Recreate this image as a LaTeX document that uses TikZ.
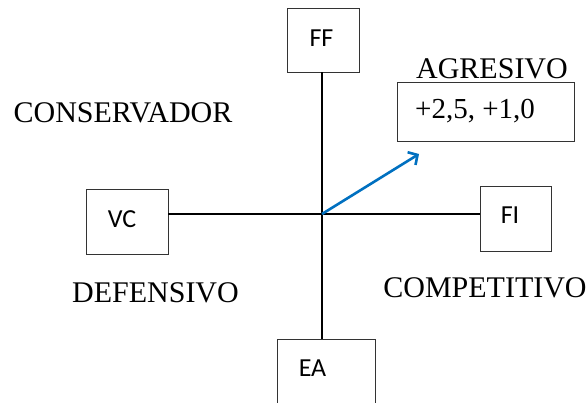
\documentclass[tikz,border=0pt]{standalone}
\usepackage{fontspec}
\setmainfont{Liberation Serif}
\newfontfamily\boxfont{Carlito}
\usetikzlibrary{arrows.meta}
\definecolor{arrowblue}{RGB}{0,112,192}
\begin{document}
\begin{tikzpicture}[x=1pt,y=-1pt,
  quadbox/.style={draw=black!80,line width=0.9pt,inner sep=0pt},
  boxlabel/.style={font=\boxfont\fontsize{26}{30}\selectfont,anchor=base,inner sep=0pt},
  zonelabel/.style={font=\fontsize{30}{34}\selectfont,anchor=base,inner sep=0pt},
  axis/.style={line width=1.3pt,black},
  vec/.style={line width=2.6pt,arrowblue,-{Straight Barb[length=7pt,width=15pt,line width=2.6pt]}}]
\useasboundingbox (0,0) rectangle (587,403);
\clip (0,0) rectangle (587,403);
% boxes
\node[quadbox,minimum width=72pt,minimum height=64pt] (FF) at (323,40) {};
\node[quadbox,minimum width=82pt,minimum height=65pt] (VC) at (127,221.5) {};
\node[quadbox,minimum width=71pt,minimum height=65pt] (FI) at (515.5,218.5) {};
\node[quadbox,minimum width=98pt,minimum height=90pt] (EA) at (326,384) {};
\node[quadbox,minimum width=177pt,minimum height=59pt] (AG) at (485.5,111.5) {};
% box labels
\node[boxlabel] (ffl) at (321.5,47) {FF};
\node[boxlabel] (vcl) at (122,228) {VC};
\node[boxlabel] (fil) at (510,224) {FI};
\node[boxlabel] (eal) at (312.5,377) {EA};
\node[zonelabel,anchor=base west,font=\fontsize{29}{34}\selectfont] (val) at (415,119) {+2,5, +1,0};
% zone labels
\node[zonelabel] (agr) at (492,79) {AGRESIVO};
\node[zonelabel] (con) at (123,123) {CONSERVADOR};
\node[zonelabel] (def) at (155.5,303) {DEFENSIVO};
\node[zonelabel] (com) at (485,298) {COMPETITIVO};
% axes
\coordinate (O) at (322,214);
\coordinate (tip) at (419,154);
\draw[axis] (FF.south -| O) -- (EA.north -| O);
\draw[axis] (VC.east |- O) -- (FI.west |- O);
\draw[vec] (O) -- (tip);
\end{tikzpicture}
\end{document}
